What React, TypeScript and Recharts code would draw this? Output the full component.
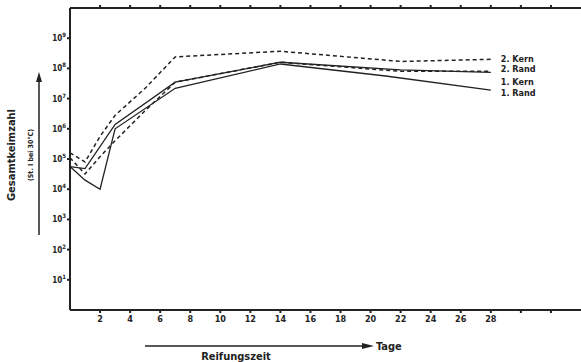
import React from 'react';
import { LineChart, Line, XAxis, YAxis } from 'recharts';

// Days of measurement and germ counts per series
const kern2Days = [0, 1, 2, 3, 5, 7, 14, 22, 28];
const kern2Values = [1.6e5, 8e4, 5.6e5, 2.8e6, 2.2e7, 2.4e8, 3.7e8, 1.7e8, 2e8];
const rand2Days = [0, 1, 2, 3, 5, 7, 14, 22, 28];
const rand2Values = [1.1e5, 3.2e4, 1.2e5, 4e5, 4e6, 3.5e7, 1.6e8, 8e7, 8e7];
const kern1Days = [0, 1, 3, 7, 14, 22, 28];
const kern1Values = [5.6e4, 4.8e4, 1.4e6, 3.5e7, 1.6e8, 9e7, 7.4e7];
const rand1Days = [0, 1, 2, 3, 7, 14, 21, 28];
const rand1Values = [5.6e4, 2e4, 1e4, 1e6, 2.2e7, 1.4e8, 5.6e7, 1.9e7];

const seriesNames = ['2. Kern', '2. Rand', '1. Kern', '1. Rand'];
const xTicks = [2, 4, 6, 8, 10, 12, 14, 16, 18, 20, 22, 24, 26, 28, 30, 32];
const xLabelMax = 28;
const yExponents = [1, 2, 3, 4, 5, 6, 7, 8, 9];
const yTicks = yExponents.map((e) => Math.pow(10, e));

const FONT = '"Liberation Sans Narrow", "DejaVu Sans Condensed", "Liberation Sans", sans-serif';
const INK = '#222';

const toData = (days: number[], vals: number[]) => days.map((d, i) => ({ day: d, v: vals[i] }));

const YTick = (props: any) => {
  const { x, y, payload } = props;
  const exp = Math.round(Math.log10(payload.value));
  return (
    <text x={x} y={y + 3} textAnchor="end" fontFamily={FONT} fontWeight="bold" fontSize={8} fill={INK}>
      <tspan>10</tspan>
      <tspan dy={-4} fontSize={6}>{exp}</tspan>
    </text>
  );
};

const XTick = (props: any) => {
  const { x, y, payload } = props;
  const label = payload.value <= xLabelMax ? String(payload.value) : '';
  return (
    <text x={x} y={y + 7} textAnchor="middle" fontFamily={FONT} fontWeight="bold" fontSize={9} fill={INK}>
      {label}
    </text>
  );
};

const makeEndLabel = (name: string, count: number, dy: number) => (props: any) => {
  const { x, y, index } = props;
  if (index !== count - 1) return null;
  return (
    <text x={x + 10} y={y + dy + 3} fontFamily={FONT} fontWeight="bold" fontSize={9} fill={INK}>
      {name}
    </text>
  );
};

export default function App() {
  const W = 581;
  const H = 362;
  return (
    <div style={{ position: 'absolute', left: 0, top: 0, width: W, height: H, background: '#fff' }}>
      <LineChart width={W} height={H} margin={{ top: 0, right: 0, bottom: 0, left: 0 }}>
        <XAxis
          xAxisId="bottom"
          dataKey="day"
          type="number"
          domain={[0, 34]}
          ticks={xTicks}
          height={52}
          tickSize={3}
          tick={<XTick />}
          stroke={INK}
          strokeWidth={2}
          allowDuplicatedCategory={false}
        />
        <XAxis
          xAxisId="top"
          orientation="top"
          dataKey="day"
          type="number"
          domain={[0, 34]}
          ticks={xTicks}
          height={8}
          tickSize={3}
          tickFormatter={() => ''}
          stroke={INK}
          strokeWidth={2}
          allowDuplicatedCategory={false}
        />
        <YAxis
          dataKey="v"
          type="number"
          scale="log"
          domain={[1, 1e10]}
          ticks={yTicks}
          width={70}
          tickSize={3}
          tickMargin={1}
          tick={<YTick />}
          stroke={INK}
          strokeWidth={2}
          allowDataOverflow
        />
        <Line
          xAxisId="top"
          data={toData(kern2Days, kern2Values)}
          dataKey="v"
          stroke="none"
          dot={false}
          legendType="none"
          isAnimationActive={false}
        />
        <Line
          xAxisId="bottom"
          data={toData(kern2Days, kern2Values)}
          dataKey="v"
          stroke={INK}
          strokeWidth={1.5}
          strokeDasharray="4 3"
          dot={false}
          isAnimationActive={false}
          label={makeEndLabel(seriesNames[0], kern2Days.length, 0)}
        />
        <Line
          xAxisId="bottom"
          data={toData(rand2Days, rand2Values)}
          dataKey="v"
          stroke={INK}
          strokeWidth={1.5}
          strokeDasharray="4 3"
          dot={false}
          isAnimationActive={false}
          label={makeEndLabel(seriesNames[1], rand2Days.length, -2)}
        />
        <Line
          xAxisId="bottom"
          data={toData(kern1Days, kern1Values)}
          dataKey="v"
          stroke={INK}
          strokeWidth={1.3}
          dot={false}
          isAnimationActive={false}
          label={makeEndLabel(seriesNames[2], kern1Days.length, 10)}
        />
        <Line
          xAxisId="bottom"
          data={toData(rand1Days, rand1Values)}
          dataKey="v"
          stroke={INK}
          strokeWidth={1.3}
          dot={false}
          isAnimationActive={false}
          label={makeEndLabel(seriesNames[3], rand1Days.length, 3)}
        />
      </LineChart>
      <svg width={W} height={H} style={{ position: 'absolute', left: 0, top: 0, pointerEvents: 'none' }}>
        <text
          transform="translate(15,155) rotate(-90)"
          textAnchor="middle"
          fontFamily={FONT}
          fontWeight="bold"
          fontSize={11}
          fill={INK}
        >
          Gesamtkeimzahl
        </text>
        <text
          transform="translate(33,155) rotate(-90)"
          textAnchor="middle"
          fontFamily={FONT}
          fontWeight="bold"
          fontSize={7}
          fill={INK}
        >
          (St. I bei 30°C)
        </text>
        <line x1={39} y1={235} x2={39} y2={80} stroke={INK} strokeWidth={1.5} />
        <polygon points="39,72 36,82 42,82" fill={INK} />
        <line x1={145} y1={346} x2={362} y2={346} stroke={INK} strokeWidth={1.5} />
        <polygon points="374,346 362,343 362,349" fill={INK} />
        <text x={376} y={350} fontFamily={FONT} fontWeight="bold" fontSize={11} fill={INK}>
          Tage
        </text>
        <text x={236} y={360} textAnchor="middle" fontFamily={FONT} fontWeight="bold" fontSize={11} fill={INK}>
          Reifungszeit
        </text>
      </svg>
    </div>
  );
}
